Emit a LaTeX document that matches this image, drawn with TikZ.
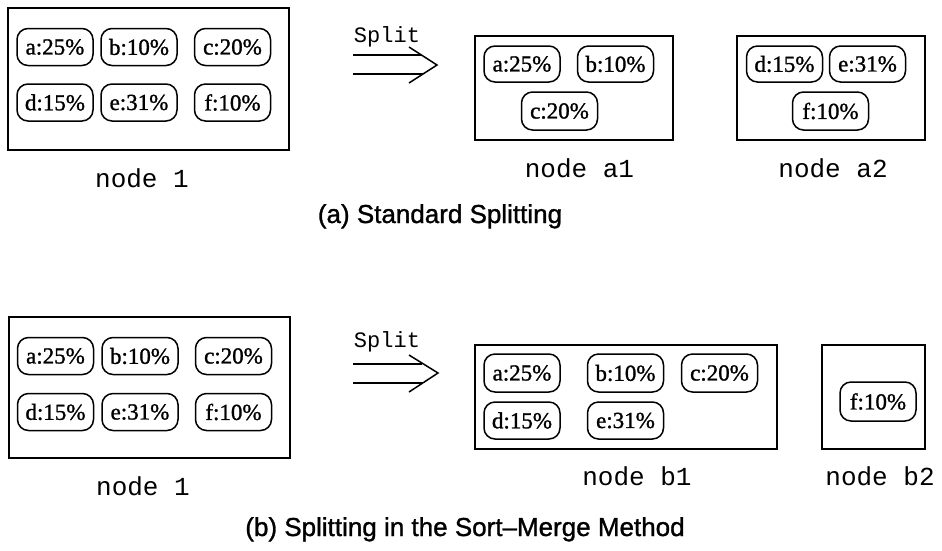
\documentclass[tikz,border=0pt]{standalone}
\usepackage{fontspec}
\newfontfamily\pillf[FakeBold=1.2]{Liberation Serif}
\newfontfamily\monof{Liberation Mono}
\newfontfamily\capf[FakeBold=1.2]{Liberation Sans}
\begin{document}
\begin{tikzpicture}[x=1pt,y=-1pt,
  container/.style={draw,line width=1.5pt,inner sep=0pt},
  pill/.style={draw,line width=1.5pt,rounded corners=11pt,inner sep=0pt,
    minimum width=76pt,minimum height=37pt,font=\pillf\fontsize{23}{23}\selectfont},
  nodelabel/.style={inner sep=0pt,anchor=base,font=\monof\fontsize{26}{26}\selectfont},
  splitlabel/.style={inner sep=0pt,anchor=base,font=\monof\fontsize{22}{22}\selectfont},
  caption/.style={inner sep=0pt,anchor=base,font=\capf\fontsize{26}{26}\selectfont},
  arrowline/.style={line width=1.5pt}]
\useasboundingbox (0,0) rectangle (942,550);

% ---------------- (a) ----------------
\node[container,minimum width=281pt,minimum height=142pt] (n1a) at (148.5,79) {};
\node[pill] (a1a) at (55,47) {a:25\%};
\node[pill] (b1a) at (139,47) {b:10\%};
\node[pill] (c1a) at (232.5,47) {c:20\%};
\node[pill] (d1a) at (55,102.5) {d:15\%};
\node[pill] (e1a) at (139,102.5) {e:31\%};
\node[pill] (f1a) at (232.5,102.5) {f:10\%};
\node[nodelabel] (ln1a) at (142,187) {node 1};

\node[splitlabel] (spa) at (387,42) {Split};
\coordinate (sa1) at (353,55);
\coordinate (sa2) at (353,74);
\coordinate (ha1) at (409,47);
\coordinate (hat) at (437,65);
\coordinate (ha2) at (409,83);
\draw[arrowline] (sa1) -- (421,55);
\draw[arrowline] (sa2) -- (423,74);
\draw[arrowline,line join=miter] (ha1) -- (hat) -- (ha2);

\node[container,minimum width=198pt,minimum height=104pt] (na1) at (574,88) {};
\node[pill,minimum height=36pt] (aa1) at (522,64) {a:25\%};
\node[pill,minimum height=36pt] (ba1) at (615.5,64) {b:10\%};
\node[pill,minimum height=38pt] (ca1) at (559.5,111) {c:20\%};
\node[nodelabel] (lna1) at (579.5,177) {node a1};

\node[container,minimum width=188pt,minimum height=104pt] (na2) at (831,88) {};
\node[pill,minimum height=36pt] (da2) at (784.5,64) {d:15\%};
\node[pill,minimum height=36pt] (ea2) at (867.5,64) {e:31\%};
\node[pill,minimum height=38pt] (fa2) at (830.5,111) {f:10\%};
\node[nodelabel] (lna2) at (833,177) {node a2};

\node[caption] (capa) at (440,223) {(a) Standard Splitting};

% ---------------- (b) ----------------
\node[container,minimum width=281pt,minimum height=141pt] (n1b) at (149.5,387.5) {};
\node[pill] (a1b) at (55.5,356) {a:25\%};
\node[pill] (b1b) at (140,356) {b:10\%};
\node[pill] (c1b) at (233.5,356) {c:20\%};
\node[pill] (d1b) at (55.5,412) {d:15\%};
\node[pill] (e1b) at (140,412) {e:31\%};
\node[pill] (f1b) at (233.5,412) {f:10\%};
\node[nodelabel] (ln1b) at (143,495) {node 1};

\node[splitlabel] (spb) at (387,347) {Split};
\coordinate (sb1) at (353,364);
\coordinate (sb2) at (353,383);
\coordinate (hb1) at (409,355);
\coordinate (hbt) at (438,373);
\coordinate (hb2) at (409,392);
\draw[arrowline] (sb1) -- (422,364);
\draw[arrowline] (sb2) -- (423,383);
\draw[arrowline,line join=miter] (hb1) -- (hbt) -- (hb2);

\node[container,minimum width=302pt,minimum height=104pt] (nb1) at (626,397) {};
\node[pill,minimum height=38pt] (ab1) at (522,373) {a:25\%};
\node[pill,minimum height=38pt] (bb1) at (625.5,373) {b:10\%};
\node[pill,minimum height=38pt] (cb1) at (719.5,373) {c:20\%};
\node[pill,minimum height=37pt] (db1) at (522,420.5) {d:15\%};
\node[pill,minimum height=37pt] (eb1) at (625.5,420.5) {e:31\%};
\node[nodelabel] (lnb1) at (637,485) {node b1};

\node[container,minimum width=103pt,minimum height=104pt] (nb2) at (873.5,397) {};
\node[pill,minimum height=39pt] (fb2) at (878,401.5) {f:10\%};
\node[nodelabel] (lnb2) at (880,485) {node b2};

\node[caption] (capb) at (465,536) {(b) Splitting in the Sort–Merge Method};
\end{tikzpicture}
\end{document}
